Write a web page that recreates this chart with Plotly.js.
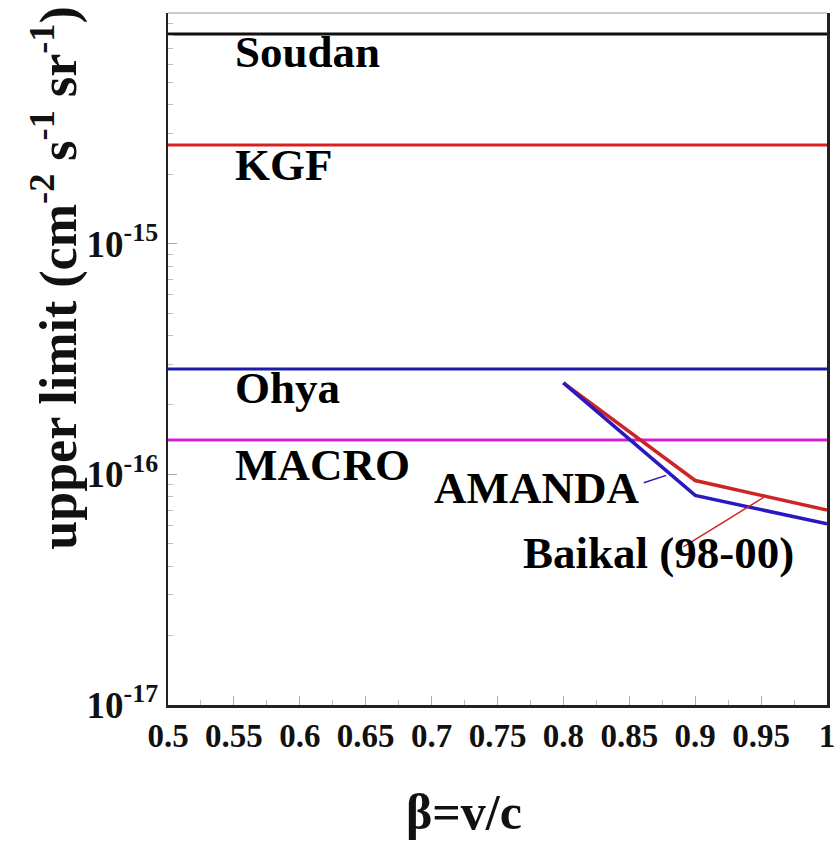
<!DOCTYPE html>
<html>
<head>
<meta charset="utf-8">
<script src="https://cdn.plot.ly/plotly-3.0.1.min.js"></script>
<style>html,body{margin:0;padding:0;background:#fff;}#chart{width:834px;height:848px;}</style>
</head>
<body>
<div id="chart"></div>
<script>
// ---- data ----
const betaRange = [0.5, 1.0];
const detectorNames = ['Soudan', 'KGF', 'Ohya', 'MACRO'];
const detectorLimits = [8.1e-15, 2.68e-15, 2.86e-16, 1.41e-16];
const amandaBeta = [0.8, 0.9, 1.0];
const amandaLimit = [2.49e-16, 8.1e-17, 6.1e-17];
const baikalBeta = [0.8, 0.9, 1.0];
const baikalLimit = [2.49e-16, 9.4e-17, 7.0e-17];
const amandaLeaderBeta = [0.861, 0.878];
const amandaLeaderLimit = [9.2e-17, 9.9e-17];
const baikalLeaderBeta = [0.891, 0.952];
const baikalLeaderLimit = [4.85e-17, 7.95e-17];
const xTickVals = [0.5, 0.55, 0.6, 0.65, 0.7, 0.75, 0.8, 0.85, 0.9, 0.95, 1];
const xTickText = ['0.5', '0.55', '0.6', '0.65', '0.7', '0.75', '0.8', '0.85', '0.9', '0.95', '1'];
const yTickVals = [1e-17, 1e-16, 1e-15];
const yTickText = ['10<sup>-17</sup>', '10<sup>-16</sup>', '10<sup>-15</sup>'];
const xTitle = 'β=v/c';
const yTitle = 'upper limit (cm<sup>-2</sup> s<sup>-1</sup> sr<sup>-1</sup>)';

// ---- styles ----
const FONT = 'Liberation Serif, Times New Roman, serif';
const detectorColors = ['#111111', '#d82020', '#1c1ca8', '#d21fd2'];
const amandaColor = '#2a18c0';
const baikalColor = '#cf2424';

const traces = [];
detectorNames.forEach((name, i) => {
  traces.push({
    x: betaRange, y: [detectorLimits[i], detectorLimits[i]],
    mode: 'lines', name: name, line: {color: detectorColors[i], width: 3},
    hoverinfo: 'skip'
  });
});
traces.push({x: baikalBeta, y: baikalLimit, mode: 'lines', name: 'Baikal (98-00)',
  line: {color: baikalColor, width: 3.5}, hoverinfo: 'skip'});
traces.push({x: amandaBeta, y: amandaLimit, mode: 'lines', name: 'AMANDA',
  line: {color: amandaColor, width: 3.5}, hoverinfo: 'skip'});
traces.push({x: amandaLeaderBeta, y: amandaLeaderLimit, mode: 'lines',
  line: {color: amandaColor, width: 1.5}, hoverinfo: 'skip'});
traces.push({x: baikalLeaderBeta, y: baikalLeaderLimit, mode: 'lines',
  line: {color: baikalColor, width: 1.5}, hoverinfo: 'skip'});

const lg = Math.log10;
const annFont = {family: FONT, size: 45, color: '#000'};
function ann(text, x, yv) {
  return {text: '<b>' + text + '</b>', x: x, y: lg(yv), xref: 'x', yref: 'y',
    xanchor: 'left', yanchor: 'middle', showarrow: false, font: annFont};
}
const annotations = [
  ann(detectorNames[0], 0.549, 6.78e-15),
  ann(detectorNames[1], 0.549, 2.19e-15),
  ann(detectorNames[2], 0.549, 2.37e-16),
  ann(detectorNames[3], 0.549, 1.10e-16),
  ann('AMANDA', 0.700, 8.73e-17),
  ann('Baikal (98-00)', 0.768, 4.56e-17),
  // axis titles placed as in the reference (off-centre)
  {text: '<b>' + yTitle + '</b>', xref: 'paper', yref: 'paper', x: -0.171, y: 0.618,
    xanchor: 'center', yanchor: 'middle', textangle: -90, showarrow: false,
    font: {family: FONT, size: 52, color: '#111'}},
  {text: '<b>' + xTitle + '</b>', xref: 'paper', yref: 'paper', x: 0.449, y: -0.155,
    xanchor: 'center', yanchor: 'middle', showarrow: false,
    font: {family: FONT, size: 50, color: '#111'}}
];

const minorY = [];
[-17, -16, -15].forEach(p => { for (let d = 2; d <= 9; d++) minorY.push(d * Math.pow(10, p)); });

const layout = {
  width: 834, height: 848,
  margin: {l: 168, r: 7, t: 13, b: 143},
  paper_bgcolor: '#fff', plot_bgcolor: '#fff',
  showlegend: false,
  font: {family: FONT, color: '#000'},
  xaxis: {
    range: [0.5, 1.0], showgrid: false, zeroline: false,
    showline: true, linecolor: '#222', linewidth: 2.5, mirror: false,
    tickvals: xTickVals, ticktext: xTickText.map(t => '<b>' + t + '</b>'),
    ticks: 'inside', ticklen: 9, tickcolor: '#aaa', tickwidth: 1,
    minor: {ticks: 'inside', ticklen: 5, tickcolor: '#bbb', dtick: 0.025},
    tickfont: {family: FONT, size: 33, color: '#111'},
    ticklabeloverflow: 'allow'
  },
  yaxis: {
    type: 'log', range: [-17, -14], showgrid: false, zeroline: false,
    showline: true, linecolor: '#222', linewidth: 2.5, mirror: true,
    tickvals: yTickVals, ticktext: yTickText.map(t => '<b>' + t + '</b>'),
    ticks: 'inside', ticklen: 9, tickcolor: '#aaa', tickwidth: 1,
    minor: {ticks: 'inside', ticklen: 5, tickcolor: '#bbb', tickvals: minorY},
    tickfont: {family: FONT, size: 37, color: '#111'},
    ticklabeloverflow: 'allow'
  },
  shapes: [
    {type: 'line', xref: 'paper', yref: 'paper', x0: 0, x1: 1, y0: 1, y1: 1,
      line: {color: '#cccccc', width: 2}}
  ],
  annotations: annotations
};

Plotly.newPlot('chart', traces, layout, {staticPlot: true, displayModeBar: false});
</script>
</body>
</html>
